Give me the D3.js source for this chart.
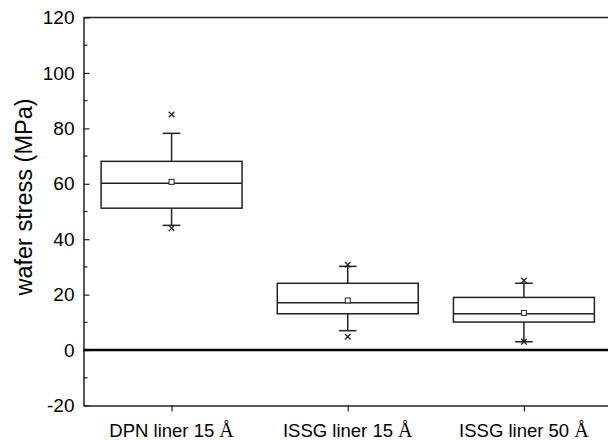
<!DOCTYPE html>
<html>
<head>
<meta charset="utf-8">
<script src="https://cdn.jsdelivr.net/npm/d3@7"></script>
<style>
  body { margin: 0; background: #fff; }
  text { font-family: "Liberation Sans", Arial, sans-serif; fill: #000; }
</style>
</head>
<body>
<div id="chart"></div>
<script>
// categories and box statistics (MPa)
const categories = ["DPN liner 15", "ISSG liner 15", "ISSG liner 50"];
const q1 = [51.2, 13.1, 10.1];
const median = [60.2, 17.1, 13.1];
const q3 = [68.1, 24.1, 19.0];
const whiskerLow = [45.0, 7.0, 3.0];
const whiskerHigh = [78.2, 30.2, 24.1];
const mean = [60.7, 17.9, 13.4];
const minPoint = [44.0, 4.8, 3.0];
const maxPoint = [85.0, 30.8, 25.1];
const yTicks = [-20, 0, 20, 40, 60, 80, 100, 120];
const yMinorTicks = [-10, 10, 30, 50, 70, 90, 110];

const data = categories.map((c, i) => ({
  pos: i + 1, name: c,
  q1: q1[i], median: median[i], q3: q3[i],
  lo: whiskerLow[i], hi: whiskerHigh[i],
  mean: mean[i], min: minPoint[i], max: maxPoint[i]
}));

// set width, height and margins
const width = 608;
const height = 440;
const margin = { top: 17.5, right: -4, bottom: 34.5, left: 83.5 };

const x = d3.scaleLinear().domain([0.5, 3.5]).range([margin.left, width - margin.right]);
const y = d3.scaleLinear().domain([-20, 120]).range([height - margin.bottom, margin.top]);

const svg = d3.select("#chart").append("svg")
  .attr("width", width)
  .attr("height", height);

const stroke = "#222";

// frame: top border
svg.append("line")
  .attr("x1", x(0.5)).attr("x2", width)
  .attr("y1", y(120)).attr("y2", y(120))
  .attr("stroke", stroke).attr("stroke-width", 1.5);

// left axis, ticks pointing inward, plain hyphen for negatives
const yAxis = svg.append("g")
  .attr("transform", `translate(${x(0.5)},0)`)
  .call(d3.axisLeft(y).tickValues(yTicks).tickSizeInner(-6).tickSizeOuter(0)
    .tickPadding(9).tickFormat((d) => String(d)));
yAxis.select(".domain").attr("stroke", stroke).attr("stroke-width", 1.5);
yAxis.selectAll(".tick line").attr("stroke", stroke).attr("stroke-width", 1.2);
yAxis.selectAll(".tick text")
  .style("font-size", "19px")
  .style("font-family", "'Liberation Sans', Arial, sans-serif")
  .attr("fill", "#000");

// minor ticks
svg.selectAll(".yMinor")
  .data(yMinorTicks)
  .join("line")
  .attr("class", "yMinor")
  .attr("x1", x(0.5)).attr("x2", x(0.5) + 4)
  .attr("y1", (d) => y(d)).attr("y2", (d) => y(d))
  .attr("stroke", stroke).attr("stroke-width", 1.2);

// bottom axis
const xAxis = svg.append("g")
  .attr("transform", `translate(0,${y(-20)})`)
  .call(d3.axisBottom(x).tickValues([1, 2, 3]).tickSize(6).tickSizeOuter(0).tickFormat(""));
xAxis.select(".domain").attr("stroke", stroke).attr("stroke-width", 1.5);
xAxis.selectAll(".tick line").attr("stroke", stroke).attr("stroke-width", 1.2);

// category labels, angstrom sign in serif like the source
const xLabels = svg.selectAll(".xLabel")
  .data(data)
  .join("text")
  .attr("class", "xLabel")
  .attr("x", (d) => x(d.pos))
  .attr("y", 437)
  .attr("text-anchor", "middle")
  .style("font-size", "18.5px");
xLabels.append("tspan").text((d) => d.name + " ");
xLabels.append("tspan")
  .style("font-family", "'Liberation Serif', 'Times New Roman', serif")
  .style("font-size", "20px")
  .text("Å");

// y axis label
svg.append("text")
  .attr("transform", "translate(32,197) rotate(-90)")
  .attr("text-anchor", "middle")
  .style("font-size", "23.5px")
  .text("wafer stress (MPa)");

// zero line
svg.append("line")
  .attr("x1", x(0.5)).attr("x2", width)
  .attr("y1", y(0)).attr("y2", y(0))
  .attr("stroke", "#000").attr("stroke-width", 2.6);

// boxes
const boxW = 0.8;
const capW = 0.1;
const g = svg.selectAll(".box").data(data).join("g").attr("class", "box");

g.append("line")
  .attr("x1", (d) => x(d.pos)).attr("x2", (d) => x(d.pos))
  .attr("y1", (d) => y(d.hi)).attr("y2", (d) => y(d.q3))
  .attr("stroke", stroke).attr("stroke-width", 1.5);
g.append("line")
  .attr("x1", (d) => x(d.pos)).attr("x2", (d) => x(d.pos))
  .attr("y1", (d) => y(d.q1)).attr("y2", (d) => y(d.lo))
  .attr("stroke", stroke).attr("stroke-width", 1.5);
g.selectAll(".cap")
  .data((d) => [{ p: d.pos, v: d.hi }, { p: d.pos, v: d.lo }])
  .join("line")
  .attr("class", "cap")
  .attr("x1", (d) => x(d.p - capW / 2)).attr("x2", (d) => x(d.p + capW / 2))
  .attr("y1", (d) => y(d.v)).attr("y2", (d) => y(d.v))
  .attr("stroke", stroke).attr("stroke-width", 1.5);

g.append("rect")
  .attr("x", (d) => x(d.pos - boxW / 2))
  .attr("width", (d) => x(d.pos + boxW / 2) - x(d.pos - boxW / 2))
  .attr("y", (d) => y(d.q3))
  .attr("height", (d) => y(d.q1) - y(d.q3))
  .attr("fill", "none")
  .attr("stroke", stroke).attr("stroke-width", 1.5);
g.append("line")
  .attr("x1", (d) => x(d.pos - boxW / 2)).attr("x2", (d) => x(d.pos + boxW / 2))
  .attr("y1", (d) => y(d.median)).attr("y2", (d) => y(d.median))
  .attr("stroke", stroke).attr("stroke-width", 1.5);

// mean square
g.append("rect")
  .attr("x", (d) => x(d.pos) - 2.5)
  .attr("y", (d) => y(d.mean) - 2.5)
  .attr("width", 5).attr("height", 5)
  .attr("fill", "#fff")
  .attr("stroke", stroke).attr("stroke-width", 1);

// min / max crosses
const cross = d3.symbol().type(d3.symbolX).size(22);
g.selectAll(".ext")
  .data((d) => [{ p: d.pos, v: d.max }, { p: d.pos, v: d.min }])
  .join("path")
  .attr("class", "ext")
  .attr("transform", (d) => `translate(${x(d.p)},${y(d.v)})`)
  .attr("d", cross)
  .attr("fill", "none")
  .attr("stroke", stroke).attr("stroke-width", 1.3);
</script>
</body>
</html>
